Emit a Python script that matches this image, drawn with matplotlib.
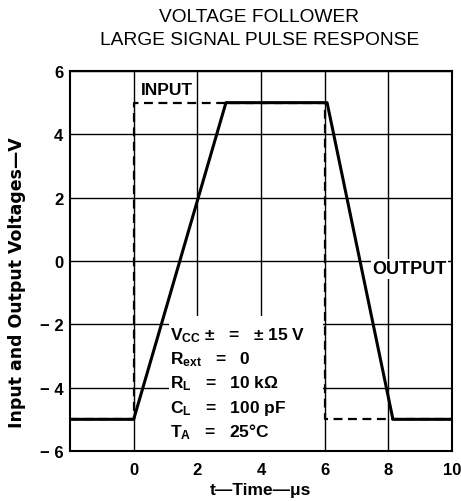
import matplotlib
matplotlib.use("Agg")
import matplotlib.pyplot as plt
from matplotlib.patches import Rectangle

plt.rcParams['font.family'] = ['Liberation Sans', 'DejaVu Sans']
plt.rcParams['mathtext.default'] = 'regular'

# pulse data (time in us, volts)
input_t = [-2, 0, 0, 6, 6, 10]
input_v = [-5, -5, 5, 5, -5, -5]
output_t = [-2, 0, 2.9, 6.08, 8.15, 10]
output_v = [-5, -5, 5, 5, -5, -5]

xticks = [0, 2, 4, 6, 8, 10]
yticks = [-6, -4, -2, 0, 2, 4, 6]
ytick_labels = ['− 6', '− 4', '− 2', '0', '2', '4', '6']

conditions = [r'V$_{CC}$ ±   =   ± 15 V',
              r'R$_{ext}$   =   0',
              r'R$_{L}$   =   10 kΩ',
              r'C$_{L}$   =   100 pF',
              r'T$_{A}$   =   25°C']

fig = plt.figure(figsize=(4.61, 5.02), dpi=100)
ax = fig.add_axes([0.152, 0.0996, 0.828, 0.757])

ax.set_xlim(-2, 10)
ax.set_ylim(-6, 6)
ax.set_xticks(xticks)
ax.set_yticks(yticks)
ax.set_yticklabels(ytick_labels)
ax.tick_params(length=0, labelsize=12)
ax.tick_params(axis='y', pad=5)
ax.tick_params(axis='x', pad=8)
for lab in ax.get_xticklabels() + ax.get_yticklabels():
    lab.set_fontweight('bold')
ax.grid(True, color='black', lw=1.0)
ax.set_axisbelow(True)
for s in ax.spines.values():
    s.set_linewidth(1.5)

ax.plot(input_t, input_v, color='black', lw=1.6, ls=(0, (4, 2.5)), zorder=2)
ax.plot(output_t, output_v, color='black', lw=2.2, zorder=3)

# white background behind the test conditions
ax.add_patch(Rectangle((1.1, -6), 4.85, 4.27, facecolor='white', edgecolor='none', zorder=1))
for i, s in enumerate(conditions):
    ax.text(1.15, -2.46 - 0.765 * i, s, fontsize=12.5, fontweight='bold', zorder=4)

ax.text(0.22, 5.43, 'INPUT', fontsize=12.5, fontweight='bold', va='center')
ax.text(7.5, -0.25, 'OUTPUT', fontsize=13, fontweight='bold', va='center',
        bbox=dict(facecolor='white', edgecolor='none', pad=1.0))

ax.set_xlabel('t—Time—μs', fontsize=12.5, fontweight='bold')
ax.xaxis.set_label_coords(0.5, -0.1)
ax.xaxis.label.set_va('center')
ax.set_ylabel('Input and Output Voltages—V', fontsize=12.5, fontweight='bold',
              family=['DejaVu Sans'])
ax.yaxis.set_label_coords(-0.139, 0.447)
ax.yaxis.label.set_va('center')

fig.text(0.562, 0.966, 'VOLTAGE FOLLOWER', ha='center', va='center', fontsize=13.8)
fig.text(0.562, 0.919, 'LARGE SIGNAL PULSE RESPONSE', ha='center', va='center', fontsize=13.8)

fig.savefig('out.png', dpi=100)
